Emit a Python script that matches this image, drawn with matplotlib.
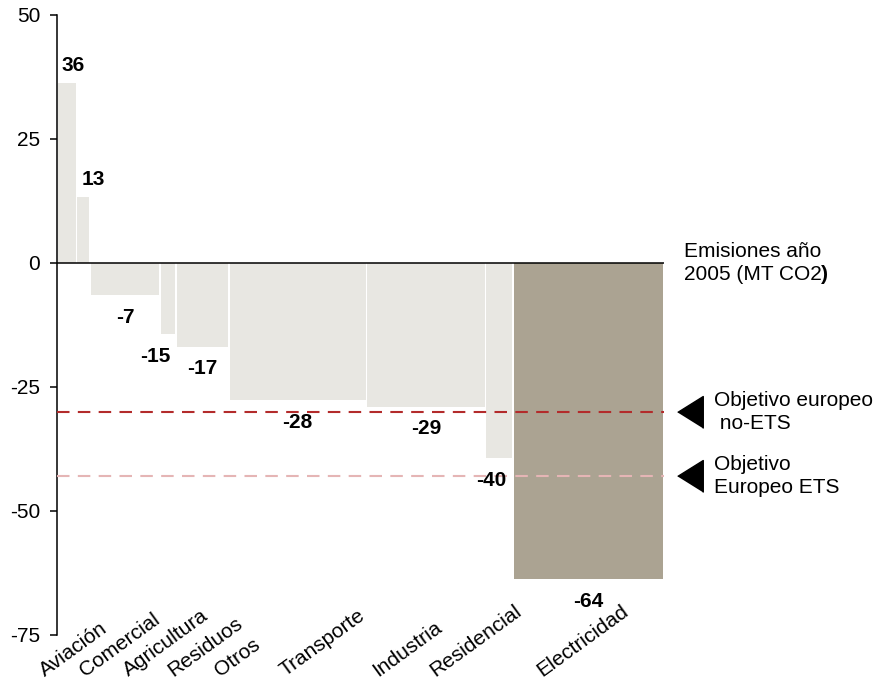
import matplotlib
matplotlib.use("Agg")
import matplotlib.pyplot as plt
from matplotlib.transforms import blended_transform_factory

plt.rcParams['font.family'] = ['Liberation Sans', 'DejaVu Sans']

# ---- data ----
sectors = ["Aviación", "Comercial", "Agricultura", "Residuos", "Otros",
           "Transporte", "Industria", "Residencial", "Electricidad"]
emisiones_2005 = [13.4, 9.0, 50.7, 10.4, 38.1, 101.5, 87.3, 19.4, 111.2]   # bar widths (MT CO2)
cambio = [36.3, 13.3, -6.5, -14.3, -16.9, -27.6, -29.0, -39.3, -63.7]      # bar heights
cambio_labels = ["36", "13", "-7", "-15", "-17", "-28", "-29", "-40", "-64"]
objetivo_no_ets = -30
objetivo_ets = -43
yticks = [50, 25, 0, -25, -50, -75]

# ---- layout / style ----
gap = 1.3
start = 0.5
light = "#E8E7E2"
dark = "#ABA392"
bar_colors = [light] * 8 + [dark]
label_dx_px = [6, 10, 0, -13, 0, 0, 0, -8, 0]
cat_label_x = [-9.0, 20.9, 53.0, 86.6, 121.6, 170.1, 239.6, 282.1, 361.9]
FS = 15

fig = plt.figure(figsize=(8.79, 6.83), dpi=100)
ax = fig.add_axes([57/879, 1 - 635/683, 607/879, 620/683])

lefts = []
x = start
for w in emisiones_2005:
    lefts.append(x)
    x += w + gap
total = x - gap + start

ax.bar(lefts, cambio, width=emisiones_2005, align='edge', color=bar_colors,
       edgecolor='none', zorder=2)

ax.set_xlim(0, total)
ax.set_ylim(-75, 50)
ax.set_yticks(yticks)
ax.set_yticklabels([str(t) for t in yticks], fontsize=FS)
ax.tick_params(axis='y', length=7*0.72, width=1.1, pad=7, direction='out')
ax.set_xticks([])
for s in ['top', 'right', 'bottom']:
    ax.spines[s].set_visible(False)
ax.spines['left'].set_linewidth(1.1)

ax.axhline(0, color='black', lw=1.1, zorder=3)
ax.axhline(objetivo_no_ets, color='#B32B2B', lw=1.5, dashes=(6, 4), zorder=4)
ax.axhline(objetivo_ets, color='#E5B5B5', lw=1.5, dashes=(6, 4), zorder=4)

# value labels
for l, w, v, txt, dx in zip(lefts, emisiones_2005, cambio, cambio_labels, label_dx_px):
    dy = 14.0 if v > 0 else -14.5
    ax.annotate(txt, xy=(l + w / 2, v), xytext=(dx * 0.72, dy),
                textcoords='offset points', ha='center', va='center_baseline',
                fontsize=FS, fontweight='bold', zorder=5)

# category labels
trans = blended_transform_factory(ax.transData, ax.transAxes)
for name, lx in zip(sectors, cat_label_x):
    ax.text(lx, -0.068, name, transform=trans, rotation=36, rotation_mode='anchor',
            ha='left', va='baseline', fontsize=FS, clip_on=False)

# right-hand annotations
tri = [(-0.8, 0), (0.8, 1), (0.8, -1)]
ax.plot([471.6, 471.6], [objetivo_no_ets, objetivo_ets], linestyle='none',
        marker=tri, markersize=23, color='black', clip_on=False)
t_em = ax.text(467, 0, "Emisiones año\n2005 (MT CO2", ha='left', va='center',
               fontsize=FS, linespacing=1.25, clip_on=False)
ax.annotate(")", xy=(1, 0), xycoords=t_em, ha='left', va='bottom',
            fontsize=FS, fontweight='bold')
ax.text(489.6, objetivo_no_ets, "Objetivo europeo\n no-ETS", ha='left', va='center',
        fontsize=FS, linespacing=1.25, clip_on=False)
ax.text(489.6, objetivo_ets, "Objetivo\nEuropeo ETS", ha='left', va='center',
        fontsize=FS, linespacing=1.25, clip_on=False)

fig.savefig("out.png", dpi=100)
